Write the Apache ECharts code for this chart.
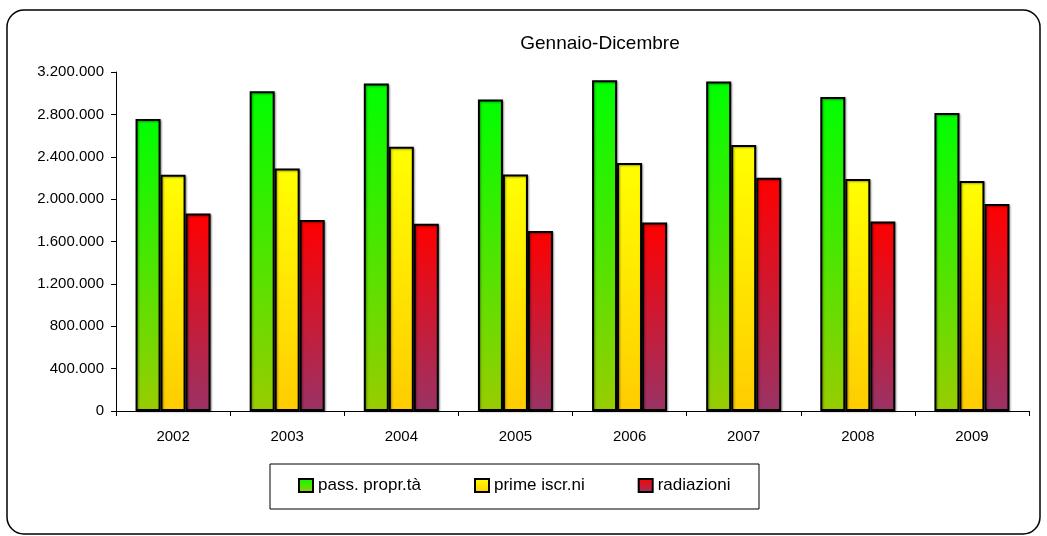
<!DOCTYPE html>
<html>
<head>
    <meta charset="utf-8">
    <script src="https://cdn.jsdelivr.net/npm/echarts@6/dist/echarts.min.js"></script>
    <style>
        body { margin: 0; background: #fff; }
    </style>
</head>
<body>
    <div id="main" style="width: 1047px;height:536px;"></div>
    <script>
        // anni
        var years = ['2002', '2003', '2004', '2005', '2006', '2007', '2008', '2009'];
        var seriesNames = ['pass. propr.tà', 'prime iscr.ni', 'radiazioni'];
        // passaggi di proprietà
        var passProp = [2757000, 3018000, 3091000, 2940000, 3122000, 3110000, 2965000, 2814000];
        // prime iscrizioni
        var primeIscr = [2230000, 2290000, 2495000, 2233000, 2341000, 2511000, 2190000, 2171000];
        // radiazioni
        var radiazioni = [1865000, 1802000, 1767000, 1698000, 1780000, 2202000, 1789000, 1954000];

        var font = '"Liberation Sans", Arial, sans-serif';

        function grad(top, bottom) {
            return {
                type: 'linear', x: 0, y: 0, x2: 0, y2: 1,
                colorStops: [{ offset: 0, color: top }, { offset: 1, color: bottom }]
            };
        }

        function fmt(v) {
            return String(v).replace(/\B(?=(\d{3})+(?!\d))/g, '.');
        }

        var barStyle = function (c) {
            return {
                color: c,
                borderColor: '#000',
                borderWidth: 2,
                shadowColor: 'rgba(0,0,0,0.35)',
                shadowBlur: 2,
                shadowOffsetX: 1,
                shadowOffsetY: 1
            };
        };

        var myChart = echarts.init(document.getElementById('main'));
        var option = {
            backgroundColor: '#fff',
            animation: false,
            title: {
                text: 'Gennaio-Dicembre',
                left: 600,
                top: 34,
                textAlign: 'center',
                padding: 0,
                textStyle: { fontFamily: font, fontSize: 19, fontWeight: 'normal', color: '#000' }
            },
            graphic: [{
                type: 'rect',
                shape: { x: 7, y: 10, width: 1033, height: 524, r: 17 },
                style: { fill: 'none', stroke: '#000', lineWidth: 1.5 },
                z: 0
            }, {
                type: 'rect',
                shape: { x: 270, y: 464, width: 489, height: 45 },
                style: { fill: '#fff', stroke: '#000', lineWidth: 1 },
                z: 0
            }],
            legend: {
                left: 298,
                top: 477,
                padding: 0,
                itemWidth: 14,
                itemHeight: 13,
                itemGap: 53,
                icon: 'rect',
                textStyle: { fontFamily: font, fontSize: 17, color: '#000' },
                data: seriesNames
            },
            grid: { left: 116, right: 18, top: 72, bottom: 125 },
            xAxis: {
                type: 'category',
                data: years,
                axisLine: { lineStyle: { color: '#000', width: 1 } },
                axisTick: { show: true, length: 5, lineStyle: { color: '#000' } },
                axisLabel: { fontFamily: font, fontSize: 15, color: '#000', margin: 18 }
            },
            yAxis: {
                type: 'value',
                min: 0,
                max: 3200000,
                interval: 400000,
                axisLine: { show: true, lineStyle: { color: '#000', width: 1 } },
                axisTick: { show: true, length: 5, lineStyle: { color: '#000' } },
                splitLine: { show: false },
                axisLabel: { fontFamily: font, fontSize: 15, color: '#000', margin: 12, formatter: fmt }
            },
            series: [{
                name: seriesNames[0],
                type: 'bar',
                data: passProp,
                barWidth: 25,
                barGap: '0%',
                itemStyle: barStyle(grad('#00ff00', '#99cc00'))
            }, {
                name: seriesNames[1],
                type: 'bar',
                data: primeIscr,
                barWidth: 25,
                barGap: '0%',
                itemStyle: barStyle(grad('#ffff00', '#ffcc00'))
            }, {
                name: seriesNames[2],
                type: 'bar',
                data: radiazioni,
                barWidth: 25,
                barGap: '0%',
                itemStyle: barStyle(grad('#ff0000', '#993366'))
            }]
        };
        myChart.setOption(option);
    </script>
</body>
</html>
